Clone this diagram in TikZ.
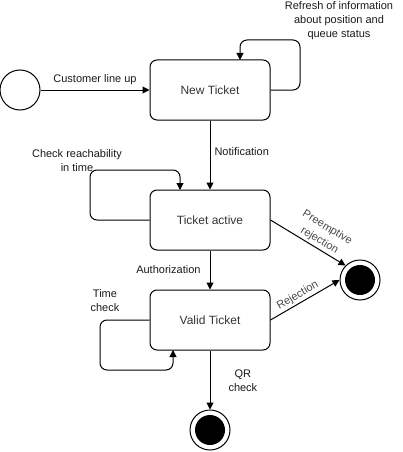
\documentclass[tikz,border=0pt]{standalone}
\usepackage{fontspec}
\setmainfont{Liberation Sans}
\usetikzlibrary{arrows.meta}
\definecolor{txt}{HTML}{333333}
\definecolor{lbl}{HTML}{1A1A1A}
\begin{document}
\begin{tikzpicture}[x=1pt,y=-1pt,
  state/.style={draw,line width=1pt,rounded corners=7pt,minimum width=120pt,minimum height=60pt,inner sep=0pt,font=\fontsize{12}{14}\selectfont,text=txt},
  initst/.style={draw,line width=1pt,circle,minimum size=40pt,inner sep=0pt},
  finalst/.style={draw,line width=1pt,circle,minimum size=40pt,inner sep=0pt,path picture={\fill[black] (path picture bounding box.center) circle (15pt);}},
  conn/.style={line width=1pt,-{Triangle[length=7pt,width=7pt]},rounded corners=7pt},
  lab/.style={font=\fontsize{11}{14}\selectfont,text=lbl,align=center,inner sep=0pt},
  rlab/.style={font=\fontsize{11}{15}\selectfont,text=txt!90,align=center,inner sep=0pt}]
\useasboundingbox (0,0) rectangle (402,452);
\node[initst] (s) at (20,90) {};
\node[state] (n) at (210,90) {New Ticket};
\node[state] (a) at (210,220) {Ticket active};
\node[state] (v) at (210,320) {Valid Ticket};
\node[finalst] (e1) at (360,280) {};
\node[finalst] (e2) at (210,430) {};
% connectors
\draw[conn] (s) -- (n) node[lab,midway,above=5pt] {Customer line up};
\coordinate (nl) at (240,60);
\draw[conn] (n.east) -- (300,90) -- (300,40) -- (240,40) -- (nl);
\node[lab] (nlab) at (339,21) {Refresh of information\\about position and\\queue status};
\draw[conn] (n) -- (a) node[lab,pos=0.45,right=4pt] {Notification};
\coordinate (al) at (180,190);
\draw[conn] (a.west) -- (90,220) -- (90,170) -- (180,170) -- (al);
\node[lab] (alab) at (77,161) {Check reachability\\in time};
\draw[conn] (a) -- (v) node[lab,pos=0.5,left=9pt] {Authorization};
\coordinate (vl) at (173,350);
\draw[conn] (v.west) -- (100,320) -- (100,370) -- (173,370) -- (vl);
\node[lab] (vlab) at (105,301) {Time\\check};
\draw[conn] (v) -- (e2) node[lab,pos=0.52,right=18pt] {QR\\check};
\draw[conn] (a.east) -- (e1.north west) node[rlab,pos=0.6,above,sloped,yshift=2pt] {Preemptive\\rejection};
\draw[conn] (v.east) -- (e1.west) node[rlab,pos=0.45,above,sloped,yshift=2pt] {Rejection};
\end{tikzpicture}
\end{document}
